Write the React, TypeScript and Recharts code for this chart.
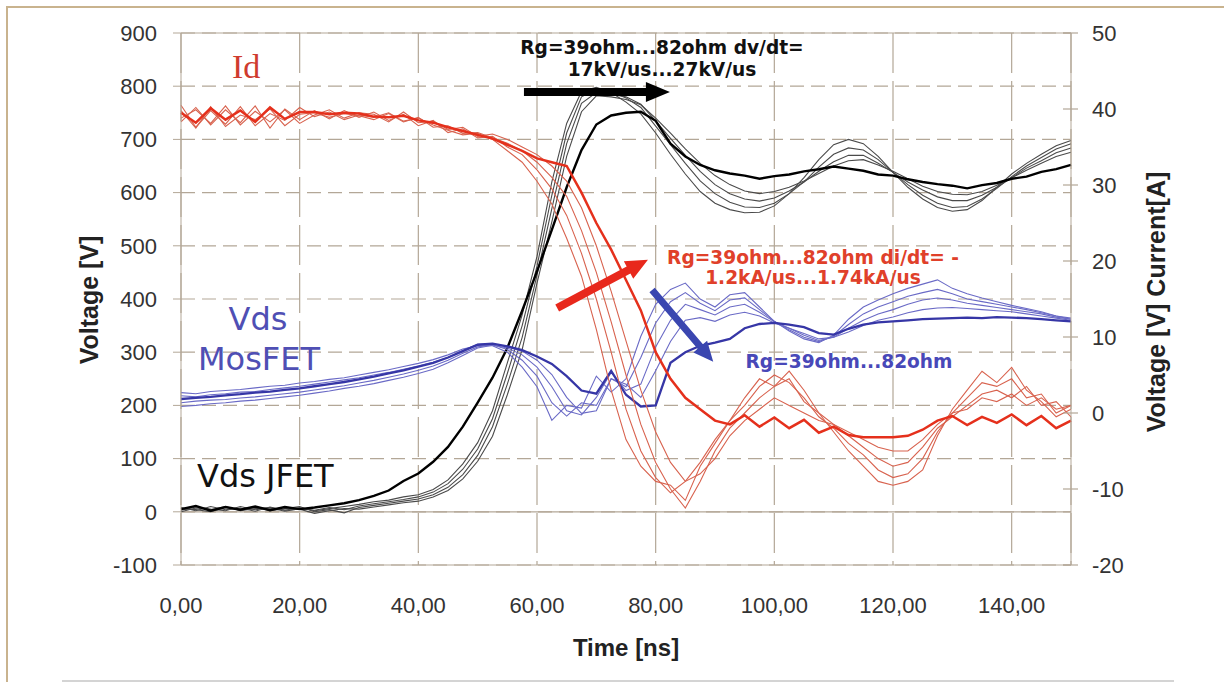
import { LineChart, Line, XAxis, YAxis, CartesianGrid, ReferenceLine } from 'recharts';

// sample times [ns]
const timeNs = [
  0, 2.5, 5, 7.5, 10, 12.5, 15, 17.5, 20, 22.5,
  25, 27.5, 30, 32.5, 35, 37.5, 40, 42.5, 45, 47.5,
  50, 52.5, 55, 57.5, 60, 62.5, 65, 67.5, 70, 72.5,
  75, 77.5, 80, 82.5, 85, 87.5, 90, 92.5, 95, 97.5,
  100, 102.5, 105, 107.5, 110, 112.5, 115, 117.5, 120, 122.5,
  125, 127.5, 130, 132.5, 135, 137.5, 140, 142.5, 145, 147.5,
  150,
];

// Vds JFET [V]
const jfetThick = [
  5, 11, 2, 9, 4, 10, 3, 9, 5, 8,
  12, 16, 22, 30, 40, 58, 72, 94, 122, 160,
  205, 252, 308, 378, 452, 530, 610, 680, 728, 745,
  750, 752, 735, 692, 668, 652, 642, 636, 632, 626,
  631, 634, 640, 644, 649, 645, 641, 634, 632, 625,
  620, 616, 613, 608, 614, 618, 626, 630, 639, 644,
  652,
];
const jfet1 = [
  8, 2, 10, 4, 7, 1, 9, 3, 8, 2,
  6, 10, 14, 19, 22, 28, 32, 42, 60, 90,
  130, 190, 280, 370, 480, 620, 730, 790, 798, 788,
  770, 748, 712, 672, 635, 602, 580, 568, 562, 563,
  575, 598, 628, 662, 690, 700, 692, 668, 638, 610,
  588, 572, 565, 568, 585, 610, 635, 655, 672, 688,
  698,
];
const jfet2 = [
  3, 9, 5, 2, 10, 4, 7, 1, 6, 3,
  8, 4, 11, 15, 19, 23, 28, 37, 53, 80,
  118, 175, 260, 350, 462, 595, 712, 780, 794, 790,
  778, 760, 725, 690, 655, 622, 598, 582, 573, 572,
  580, 598, 620, 648, 672, 684, 680, 662, 638, 615,
  595, 580, 572, 574, 588, 608, 630, 650, 666, 682,
  692,
];
const jfet3 = [
  6, 4, 0, 8, 3, 9, 2, 6, 10, 0,
  4, -2, 8, 12, 16, 20, 24, 32, 46, 70,
  106, 160, 240, 328, 445, 570, 692, 768, 788, 785,
  780, 766, 735, 702, 670, 640, 615, 598, 588, 584,
  590, 603, 620, 640, 658, 670, 670, 655, 638, 620,
  605, 592, 585, 585, 595, 610, 628, 646, 660, 675,
  684,
];
const jfet4 = [
  0, 7, 4, 10, 2, 6, 8, 3, 5, -3,
  2, 6, 5, 9, 13, 17, 20, 28, 40, 62,
  95, 142, 220, 305, 430, 545, 668, 752, 782, 780,
  775, 765, 740, 712, 682, 655, 632, 615, 603, 598,
  602, 610, 622, 636, 650, 660, 662, 652, 640, 626,
  612, 602, 597, 596, 602, 614, 628, 642, 655, 668,
  676,
];

// Vds MosFET [V]
const mosThick = [
  212, 214, 216, 219, 221, 224, 226, 229, 232, 236,
  240, 244, 249, 254, 260, 266, 273, 280, 290, 302,
  314, 316, 311, 304, 292, 278, 255, 228, 222, 265,
  220, 198, 200, 280, 300, 312, 318, 325, 345, 353,
  355, 352, 347, 336, 333, 344, 352, 356, 358, 360,
  362, 363, 364, 365, 364, 366, 365, 364, 362, 360,
  358,
];
const mos1 = [
  224, 222, 226, 228, 230, 233, 236, 238, 242, 245,
  249, 252, 257, 262, 267, 273, 279, 286, 295, 306,
  312, 312, 300, 272, 235, 172, 200, 195, 255, 225,
  250, 330, 390, 418, 430, 400, 385, 408, 412, 385,
  358, 340, 325, 318, 332, 362, 385, 398, 410, 420,
  428, 436, 420, 410, 402, 395, 388, 382, 376, 368,
  362,
];
const mos2 = [
  205, 208, 210, 211, 214, 216, 219, 222, 225, 229,
  233, 237, 242, 247, 253, 259, 266, 274, 285, 298,
  310, 314, 305, 285, 255, 205, 180, 205, 200, 250,
  235, 290, 355, 395, 412, 392, 378, 398, 402, 380,
  358, 342, 328, 320, 330, 352, 372, 385, 395, 405,
  412, 418, 410, 400, 395, 390, 385, 380, 374, 368,
  364,
];
const mos3 = [
  198, 200, 203, 205, 208, 210, 213, 216, 219, 223,
  227, 232, 236, 241, 247, 253, 260, 268, 280, 294,
  308, 313, 308, 295, 272, 235, 190, 182, 215, 262,
  228, 240, 310, 360, 390, 380, 370, 385, 390, 375,
  357, 345, 332, 322, 328, 345, 360, 372, 380, 390,
  398, 402, 398, 392, 388, 384, 380, 376, 372, 366,
  362,
];
const mos4 = [
  218, 216, 220, 222, 225, 226, 230, 233, 236, 240,
  244, 248, 252, 257, 262, 268, 274, 281, 290, 303,
  315, 316, 310, 302, 285, 258, 215, 185, 190, 250,
  240, 215, 265, 320, 360, 365, 358, 370, 375, 368,
  355, 345, 335, 325, 328, 338, 350, 360, 366, 374,
  380, 383, 384, 382, 380, 378, 376, 372, 368, 364,
  360,
];

// Id [A]
const idThick = [
  39.5, 38.2, 40.1, 38.6, 39.8, 38.3, 40.2, 38.7, 39.6, 39.6,
  39.3, 39.5, 39.4, 39.0, 38.9, 39.1, 38.5, 38.2, 37.6, 37.1,
  36.6, 36.1, 35.3, 34.5, 33.5, 33.0, 32.5, 29.0, 25.0, 21.5,
  17.5, 13.5, 8.0, 4.5, 2.0, 0.5, -1.0, -1.5, -0.3, -1.8,
  -0.6, -2.0, -0.9, -2.6, -1.8, -2.9, -3.2, -3.2, -3.2, -3.0,
  -2.2, -1.0, -0.4, -1.6, -0.5, -1.3, -0.2, -1.6, -0.4, -2.0,
  -1.0,
];
const id1 = [
  40.5, 37.6, 39.8, 38.0, 40.3, 37.8, 39.4, 38.5, 40.2, 39.0,
  39.6, 38.6, 39.2, 38.9, 39.5, 38.4, 38.8, 37.9, 37.2, 36.6,
  36.8, 36.0, 34.5, 33.0, 30.5, 27.5, 23.0, 18.0, 11.0, 3.0,
  -3.5, -7.0, -9.0, -9.5, -11.5, -7.0, -4.0, -1.0, 2.0, 4.5,
  3.5, 5.5, 3.0, 0.0, -2.5, -5.0, -7.0, -9.0, -9.5, -9.0,
  -7.5, -3.0, 0.5, 3.0, 5.5, 4.0, 6.0, 3.0, 1.5, -0.5,
  0.5,
];
const id2 = [
  38.3, 40.2, 37.9, 39.9, 38.2, 40.4, 37.5, 40.0, 38.6, 39.8,
  38.7, 39.8, 38.9, 39.6, 38.5, 39.3, 37.8, 38.5, 36.9, 37.4,
  36.2, 36.4, 35.0, 34.0, 32.0, 29.5, 26.0, 21.0, 15.0, 8.0,
  0.5, -5.0, -8.5, -10.5, -9.0, -6.5, -3.5, -1.0, 1.0, 3.5,
  5.0, 4.0, 2.0, -0.5, -2.0, -4.0, -5.5, -7.5, -8.5, -8.0,
  -6.0, -2.5, 0.0, 2.0, 4.0, 3.5, 4.5, 2.0, 2.5, 0.0,
  1.0,
];
const id3 = [
  39.8, 37.5, 40.3, 37.7, 39.2, 38.6, 40.0, 37.8, 39.3, 39.5,
  38.9, 39.4, 39.1, 38.6, 39.4, 38.3, 38.9, 37.6, 37.8, 36.8,
  36.9, 36.2, 35.5, 34.5, 33.0, 31.0, 28.5, 24.0, 18.5, 12.0,
  5.0, -1.5, -6.5, -10.0, -12.5, -9.0, -5.0, -2.0, 0.0, 2.0,
  3.5, 4.5, 1.5, 0.0, -1.5, -3.0, -4.5, -6.0, -7.0, -6.5,
  -4.5, -2.0, -0.5, 1.0, 2.5, 3.0, 2.0, 3.5, 1.0, 1.5,
  -0.5,
];
const id4 = [
  38.8, 39.9, 38.1, 40.4, 37.9, 39.7, 38.3, 39.9, 38.1, 39.2,
  39.9, 38.8, 39.5, 39.3, 38.3, 39.6, 38.2, 38.4, 37.3, 37.6,
  36.4, 36.7, 36.0, 35.0, 34.0, 32.5, 30.5, 27.0, 22.0, 16.0,
  9.5, 3.0, -2.5, -6.5, -9.0, -8.0, -6.0, -3.0, -1.0, 0.5,
  2.0, 1.0, 0.0, -1.0, -1.5, -2.5, -3.5, -4.5, -5.0, -5.0,
  -3.5, -1.5, 0.0, 0.5, 2.0, 1.5, 2.5, 1.0, 2.0, 0.5,
  1.0,
];

const xTicks = [0, 20, 40, 60, 80, 100, 120, 140];
const voltTicks = [-100, 0, 100, 200, 300, 400, 500, 600, 700, 800, 900];
const ampTicks = [-20, -10, 0, 10, 20, 30, 40, 50];

const series = [
  { key: 'j1', values: jfet1, axis: 'v', color: '#4a4a4a', width: 1.1 },
  { key: 'j2', values: jfet2, axis: 'v', color: '#4a4a4a', width: 1.1 },
  { key: 'j3', values: jfet3, axis: 'v', color: '#4a4a4a', width: 1.1 },
  { key: 'j4', values: jfet4, axis: 'v', color: '#4a4a4a', width: 1.1 },
  { key: 'j0', values: jfetThick, axis: 'v', color: '#000000', width: 2.4 },
  { key: 'm1', values: mos1, axis: 'v', color: '#6a6ac6', width: 1.1 },
  { key: 'm2', values: mos2, axis: 'v', color: '#6a6ac6', width: 1.1 },
  { key: 'm3', values: mos3, axis: 'v', color: '#6a6ac6', width: 1.1 },
  { key: 'm4', values: mos4, axis: 'v', color: '#6a6ac6', width: 1.1 },
  { key: 'm0', values: mosThick, axis: 'v', color: '#3636a6', width: 2.3 },
  { key: 'i1', values: id1, axis: 'a', color: '#d8624e', width: 1.1 },
  { key: 'i2', values: id2, axis: 'a', color: '#d8624e', width: 1.1 },
  { key: 'i3', values: id3, axis: 'a', color: '#d8624e', width: 1.1 },
  { key: 'i4', values: id4, axis: 'a', color: '#d8624e', width: 1.1 },
  { key: 'i0', values: idThick, axis: 'a', color: '#e5301c', width: 2.5 },
];

const rows = timeNs.map((t, i) => {
  const row: Record<string, number> = { t };
  series.forEach((s) => {
    row[s.key] = s.values[i];
  });
  return row;
});

const gridColor = '#b3a797';
const tickStyle = { fill: '#333', fontSize: 22, fontFamily: 'Liberation Sans, Arial, sans-serif' };

function arrowShape(p: any, color: string, shaft: number, headLen: number, headW: number) {
  const { x1, y1, x2, y2 } = p;
  const dx = x2 - x1;
  const dy = y2 - y1;
  const len = Math.sqrt(dx * dx + dy * dy) || 1;
  const ux = dx / len;
  const uy = dy / len;
  const nx = -uy;
  const ny = ux;
  const bx = x2 - ux * headLen;
  const by = y2 - uy * headLen;
  const s = shaft / 2;
  const h = headW / 2;
  const d = [
    `M${x1 + nx * s},${y1 + ny * s}`,
    `L${bx + nx * s},${by + ny * s}`,
    `L${bx + nx * h},${by + ny * h}`,
    `L${x2},${y2}`,
    `L${bx - nx * h},${by - ny * h}`,
    `L${bx - nx * s},${by - ny * s}`,
    `L${x1 - nx * s},${y1 - ny * s}`,
    'Z',
  ].join(' ');
  return <path d={d} fill={color} />;
}

function RightTick(props: any) {
  const { x, y, payload } = props;
  const axisX = x - 21;
  return (
    <g>
      <line x1={axisX - 8} y1={y} x2={axisX + 7} y2={y} stroke={gridColor} strokeWidth={1.2} />
      <text x={x} y={y} dy="0.36em" textAnchor="start" {...tickStyle}>
        {payload.value}
      </text>
    </g>
  );
}

const annoFont = 'DejaVu Sans, Verdana, sans-serif';

export default function App() {
  return (
    <div style={{ position: 'absolute', left: 0, top: 0, width: 1224, height: 682, background: '#fff', overflow: 'hidden' }}>
      <div style={{ position: 'absolute', left: 6, top: 6, width: 1230, height: 676, borderTop: '2px solid #c9b38e', borderLeft: '2px solid #c9b38e' }} />
      <div style={{ position: 'absolute', left: 62, top: 680, width: 1112, height: 2, background: '#d4d4d4' }} />
      <LineChart width={1224} height={682} data={rows} margin={{ top: 33, right: 0, bottom: 57, left: 0 }}>
        <CartesianGrid yAxisId="v" vertical={false} stroke={gridColor} strokeDasharray="14 7" strokeWidth={1.2} />
        <CartesianGrid yAxisId="v" horizontal={false} stroke={gridColor} strokeDasharray="40 8" strokeWidth={1.2} />
        <XAxis
          dataKey="t"
          type="number"
          domain={[0, 150]}
          ticks={xTicks}
          tickFormatter={(v: number) => v.toFixed(2).replace('.', ',')}
          tickLine={false}
          tickSize={0}
          tickMargin={32}
          height={60}
          stroke={gridColor}
          tick={tickStyle}
        />
        <YAxis
          yAxisId="v"
          domain={[-100, 900]}
          ticks={voltTicks}
          width={181}
          tickSize={8}
          tickMargin={16}
          stroke={gridColor}
          tick={tickStyle}
        />
        <YAxis
          yAxisId="a"
          orientation="right"
          domain={[-20, 50]}
          ticks={ampTicks}
          width={153}
          tickSize={7}
          tickMargin={14}
          tickLine={false}
          stroke={gridColor}
          tick={<RightTick />}
        />
        <ReferenceLine yAxisId="v" y={900} stroke={gridColor} strokeWidth={1.2} />
        <ReferenceLine yAxisId="v" y={0} stroke={gridColor} strokeWidth={1.2} />
        {series.map((s) => (
          <Line
            key={s.key}
            yAxisId={s.axis}
            dataKey={s.key}
            type="linear"
            stroke={s.color}
            strokeWidth={s.width}
            dot={false}
            activeDot={false}
            isAnimationActive={false}
          />
        ))}
        <ReferenceLine
          yAxisId="v"
          segment={[{ x: 57.8, y: 789 }, { x: 82.4, y: 789 }]}
          shape={(p: any) => arrowShape(p, '#000000', 8, 24, 20)}
        />
        <ReferenceLine
          yAxisId="v"
          segment={[{ x: 63.4, y: 383 }, { x: 78.7, y: 474 }]}
          shape={(p: any) => arrowShape(p, '#e8281c', 8, 22, 20)}
        />
        <ReferenceLine
          yAxisId="v"
          segment={[{ x: 79.4, y: 417 }, { x: 89.7, y: 282 }]}
          shape={(p: any) => arrowShape(p, '#3a46b0', 7, 20, 18)}
        />
      </LineChart>
      <svg width={1224} height={682} style={{ position: 'absolute', left: 0, top: 0, pointerEvents: 'none' }}>
        <g fontFamily="Liberation Sans, Arial, sans-serif" fontWeight="bold" fill="#222">
          <text transform="translate(89,300) rotate(-90)" textAnchor="middle" dominantBaseline="central" fontSize={25}>Voltage [V]</text>
          <text transform="translate(1156,302) rotate(-90)" textAnchor="middle" dominantBaseline="central" fontSize={25}>Voltage [V] Current[A]</text>
          <text x={626} y={656} textAnchor="middle" fontSize={24}>Time [ns]</text>
        </g>
        <text x={232} y={78} fontFamily="Liberation Serif, serif" fontSize={34} fill="#cf3b2e">Id</text>
        <g fontFamily={annoFont} fontSize={32}>
          <text x={258} y={330} textAnchor="middle" fill="#4f4fb4">Vds</text>
          <text x={198} y={370} fill="#4f4fb4">MosFET</text>
          <text x={197} y={487} fill="#111">Vds JFET</text>
        </g>
        <g fontFamily={annoFont} fontSize={18.6} fontWeight="bold">
          <text x={662} y={54} textAnchor="middle" fill="#111">Rg=39ohm...82ohm dv/dt=</text>
          <text x={662} y={76} textAnchor="middle" fill="#111">17kV/us...27kV/us</text>
          <text x={813} y={264} textAnchor="middle" fill="#e0402a">Rg=39ohm...82ohm di/dt= -</text>
          <text x={813} y={284} textAnchor="middle" fill="#e0402a">1.2kA/us...1.74kA/us</text>
          <text x={849} y={368} textAnchor="middle" fill="#4848b8">Rg=39ohm...82ohm</text>
        </g>
      </svg>
    </div>
  );
}
